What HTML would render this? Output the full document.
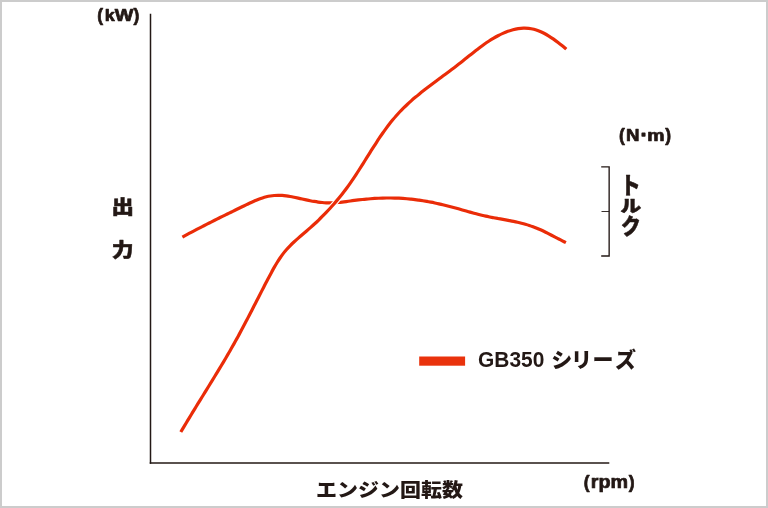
<!DOCTYPE html>
<html lang="ja"><head><meta charset="utf-8"><title>GB350 シリーズ</title>
<style>
html,body{margin:0;padding:0;background:#fff;}
body{width:768px;height:508px;overflow:hidden;}
svg{display:block;}
text{font-family:"Liberation Sans","Noto Sans CJK JP",sans-serif;font-weight:bold;fill:#231815;}
.jp{font-family:"Liberation Sans","Noto Sans CJK JP",sans-serif;font-weight:900;stroke:#231815;stroke-width:0.5px;stroke-linejoin:round;}
.un{stroke:#231815;stroke-width:0.7px;stroke-linejoin:round;}
</style></head><body>
<svg width="768" height="508" viewBox="0 0 768 508">
<rect x="0" y="0" width="768" height="508" fill="#fff"/>
<rect x="1" y="1" width="766" height="506" fill="none" stroke="#cccccc" stroke-width="2"/>
<!-- axes -->
<path d="M150.5 13.8 V463.75" fill="none" stroke="#231815" stroke-width="1.5"/>
<path d="M149.75 463 H609.3" fill="none" stroke="#231815" stroke-width="1.5"/>
<!-- torque bracket -->
<path d="M601.2 166.8 H609.15 V256 H601.2" fill="none" stroke="#231815" stroke-width="1.35"/>
<path d="M601.5 211.5 H609.15" fill="none" stroke="#231815" stroke-width="0.9"/>
<!-- curves -->
<path d="M182.40 237.10 C183.59 236.45 184.79 235.79 185.98 235.14 C187.17 234.50 188.37 233.85 189.56 233.21 C190.75 232.57 191.95 231.94 193.14 231.31 C194.33 230.68 195.53 230.05 196.72 229.42 C197.92 228.80 199.11 228.17 200.30 227.56 C201.50 226.94 202.69 226.32 203.89 225.71 C205.09 225.09 206.28 224.48 207.48 223.87 C208.68 223.27 209.88 222.66 211.08 222.06 C212.28 221.45 213.48 220.85 214.68 220.25 C215.88 219.65 217.08 219.05 218.28 218.45 C219.49 217.85 220.69 217.26 221.90 216.66 C223.10 216.07 224.31 215.47 225.52 214.88 C226.73 214.29 227.94 213.69 229.15 213.10 C230.36 212.51 231.58 211.92 232.79 211.33 C234.01 210.73 235.22 210.14 236.44 209.55 C237.66 208.96 238.88 208.37 240.10 207.77 C241.33 207.18 242.55 206.59 243.78 205.99 C245.00 205.40 246.23 204.80 247.46 204.21 C248.70 203.62 249.93 203.03 251.17 202.45 C252.41 201.88 253.65 201.31 254.90 200.78 C256.15 200.24 257.41 199.72 258.67 199.24 C259.93 198.77 261.20 198.31 262.48 197.91 C263.76 197.50 265.05 197.14 266.35 196.82 C267.65 196.51 268.96 196.24 270.27 196.03 C271.58 195.81 272.91 195.64 274.23 195.53 C275.55 195.41 276.88 195.35 278.21 195.33 C279.55 195.32 280.88 195.37 282.21 195.45 C283.55 195.54 284.88 195.69 286.22 195.86 C287.55 196.03 288.89 196.25 290.22 196.48 C291.56 196.72 292.89 196.99 294.23 197.26 C295.56 197.54 296.89 197.84 298.23 198.13 C299.56 198.42 300.89 198.73 302.22 199.02 C303.56 199.31 304.89 199.61 306.22 199.89 C307.55 200.17 308.88 200.45 310.20 200.70 C311.53 200.96 312.86 201.21 314.19 201.43 C315.52 201.66 316.85 201.87 318.18 202.05 C319.51 202.23 320.84 202.39 322.17 202.52 C323.50 202.65 324.83 202.75 326.16 202.82 C327.49 202.88 328.82 202.92 330.16 202.91 C331.49 202.91 332.83 202.86 334.16 202.79 C335.50 202.72 336.84 202.61 338.17 202.49 C339.51 202.37 340.85 202.22 342.19 202.06 C343.53 201.90 344.88 201.72 346.22 201.54 C347.56 201.36 348.91 201.17 350.25 200.98 C351.60 200.80 352.94 200.61 354.29 200.43 C355.64 200.26 356.98 200.09 358.33 199.93 C359.68 199.77 361.03 199.62 362.38 199.48 C363.73 199.33 365.08 199.20 366.43 199.08 C367.78 198.95 369.13 198.84 370.48 198.73 C371.84 198.63 373.19 198.54 374.54 198.45 C375.89 198.37 377.24 198.30 378.59 198.23 C379.95 198.17 381.30 198.12 382.65 198.08 C384.00 198.04 385.35 198.01 386.70 198.00 C388.05 197.98 389.40 197.98 390.75 197.99 C392.10 197.99 393.45 198.01 394.80 198.05 C396.15 198.08 397.49 198.13 398.84 198.19 C400.19 198.25 401.53 198.33 402.87 198.42 C404.22 198.50 405.56 198.61 406.90 198.72 C408.25 198.84 409.59 198.97 410.93 199.11 C412.26 199.26 413.60 199.41 414.94 199.58 C416.28 199.75 417.61 199.93 418.94 200.12 C420.28 200.31 421.61 200.52 422.94 200.73 C424.27 200.95 425.60 201.18 426.93 201.41 C428.26 201.65 429.58 201.90 430.91 202.16 C432.23 202.41 433.55 202.68 434.87 202.96 C436.19 203.24 437.51 203.52 438.83 203.82 C440.14 204.11 441.46 204.42 442.77 204.73 C444.09 205.04 445.40 205.36 446.71 205.69 C448.01 206.02 449.32 206.35 450.63 206.69 C451.93 207.03 453.23 207.38 454.53 207.74 C455.83 208.09 457.13 208.45 458.43 208.82 C459.73 209.18 461.02 209.55 462.32 209.92 C463.61 210.28 464.91 210.66 466.20 211.02 C467.50 211.39 468.79 211.76 470.09 212.12 C471.38 212.48 472.68 212.84 473.98 213.19 C475.28 213.54 476.58 213.89 477.88 214.22 C479.18 214.56 480.49 214.89 481.80 215.21 C483.11 215.52 484.42 215.83 485.73 216.12 C487.05 216.41 488.37 216.68 489.69 216.95 C491.01 217.22 492.34 217.48 493.67 217.73 C494.99 217.98 496.32 218.22 497.65 218.46 C498.98 218.71 500.31 218.94 501.64 219.18 C502.97 219.42 504.30 219.66 505.63 219.90 C506.96 220.14 508.29 220.39 509.62 220.64 C510.94 220.90 512.27 221.16 513.59 221.43 C514.91 221.70 516.23 221.98 517.54 222.28 C518.86 222.58 520.17 222.89 521.47 223.22 C522.78 223.55 524.08 223.89 525.37 224.26 C526.66 224.63 527.95 225.01 529.23 225.43 C530.51 225.84 531.79 226.28 533.05 226.74 C534.32 227.21 535.57 227.70 536.82 228.21 C538.08 228.73 539.32 229.27 540.56 229.83 C541.79 230.38 543.02 230.96 544.25 231.55 C545.48 232.13 546.69 232.74 547.91 233.35 C549.13 233.96 550.34 234.58 551.54 235.20 C552.75 235.83 553.95 236.46 555.15 237.08 C556.36 237.71 557.55 238.34 558.75 238.96 C559.94 239.58 561.14 240.20 562.33 240.81 C563.52 241.41 564.71 242.00 565.90 242.60" fill="none" stroke="#ea2c08" stroke-width="3.2"/>
<path d="M180.80 432.00 C181.72 430.45 182.64 428.89 183.56 427.34 C184.48 425.79 185.41 424.24 186.34 422.70 C187.27 421.15 188.20 419.61 189.14 418.06 C190.07 416.52 191.01 414.98 191.95 413.44 C192.89 411.89 193.84 410.35 194.78 408.82 C195.73 407.28 196.67 405.74 197.62 404.20 C198.57 402.66 199.52 401.13 200.47 399.59 C201.42 398.05 202.37 396.52 203.32 394.98 C204.27 393.44 205.22 391.91 206.17 390.37 C207.12 388.83 208.07 387.30 209.01 385.76 C209.96 384.22 210.91 382.68 211.85 381.14 C212.80 379.60 213.74 378.06 214.68 376.52 C215.63 374.98 216.57 373.44 217.50 371.89 C218.44 370.35 219.37 368.80 220.30 367.25 C221.23 365.71 222.16 364.16 223.09 362.60 C224.01 361.05 224.93 359.50 225.84 357.94 C226.76 356.39 227.67 354.83 228.58 353.27 C229.48 351.70 230.38 350.14 231.28 348.57 C232.18 347.01 233.07 345.44 233.95 343.86 C234.83 342.29 235.71 340.71 236.58 339.13 C237.46 337.55 238.32 335.97 239.18 334.38 C240.04 332.79 240.90 331.20 241.75 329.61 C242.60 328.02 243.44 326.42 244.28 324.83 C245.12 323.23 245.96 321.63 246.80 320.03 C247.63 318.43 248.46 316.82 249.29 315.22 C250.12 313.61 250.95 312.01 251.77 310.40 C252.60 308.79 253.42 307.19 254.25 305.58 C255.07 303.97 255.90 302.36 256.72 300.75 C257.54 299.15 258.37 297.54 259.19 295.93 C260.02 294.32 260.84 292.71 261.67 291.11 C262.50 289.50 263.32 287.89 264.16 286.29 C264.99 284.68 265.82 283.08 266.66 281.48 C267.50 279.88 268.34 278.27 269.19 276.68 C270.03 275.08 270.88 273.48 271.74 271.89 C272.61 270.31 273.47 268.72 274.37 267.16 C275.26 265.59 276.17 264.04 277.12 262.51 C278.06 260.98 279.03 259.46 280.04 257.98 C281.05 256.51 282.08 255.05 283.18 253.63 C284.27 252.21 285.41 250.83 286.59 249.48 C287.78 248.14 289.02 246.84 290.29 245.55 C291.56 244.27 292.88 243.03 294.22 241.79 C295.55 240.56 296.92 239.35 298.29 238.15 C299.66 236.95 301.05 235.76 302.44 234.57 C303.82 233.38 305.22 232.20 306.60 231.01 C307.98 229.82 309.35 228.62 310.71 227.41 C312.06 226.20 313.40 224.98 314.72 223.75 C316.05 222.52 317.36 221.28 318.65 220.03 C319.95 218.78 321.23 217.52 322.49 216.24 C323.76 214.97 325.01 213.68 326.25 212.39 C327.48 211.09 328.71 209.78 329.92 208.46 C331.12 207.14 332.32 205.81 333.50 204.47 C334.67 203.12 335.84 201.77 336.99 200.40 C338.14 199.03 339.28 197.64 340.40 196.25 C341.52 194.85 342.63 193.45 343.72 192.02 C344.82 190.60 345.90 189.17 346.96 187.72 C348.03 186.27 349.08 184.81 350.12 183.33 C351.16 181.86 352.18 180.37 353.20 178.87 C354.21 177.37 355.21 175.86 356.21 174.34 C357.21 172.82 358.19 171.29 359.17 169.76 C360.16 168.22 361.13 166.68 362.10 165.14 C363.08 163.60 364.04 162.05 365.01 160.50 C365.98 158.96 366.94 157.40 367.91 155.86 C368.88 154.31 369.84 152.76 370.82 151.22 C371.79 149.67 372.76 148.13 373.75 146.59 C374.73 145.06 375.71 143.53 376.71 142.01 C377.70 140.49 378.71 138.97 379.72 137.47 C380.74 135.96 381.76 134.47 382.80 132.99 C383.84 131.51 384.89 130.04 385.95 128.59 C387.02 127.13 388.10 125.69 389.20 124.27 C390.30 122.85 391.41 121.45 392.55 120.06 C393.69 118.68 394.84 117.31 396.02 115.97 C397.20 114.63 398.40 113.31 399.63 112.01 C400.85 110.71 402.10 109.43 403.37 108.18 C404.64 106.92 405.93 105.69 407.23 104.47 C408.54 103.25 409.86 102.05 411.20 100.86 C412.54 99.67 413.90 98.50 415.27 97.34 C416.64 96.18 418.03 95.04 419.42 93.91 C420.82 92.77 422.23 91.65 423.65 90.53 C425.06 89.42 426.49 88.32 427.93 87.22 C429.36 86.12 430.81 85.03 432.26 83.94 C433.70 82.85 435.16 81.77 436.62 80.68 C438.07 79.60 439.54 78.52 441.00 77.44 C442.46 76.36 443.93 75.28 445.39 74.20 C446.85 73.12 448.31 72.04 449.77 70.95 C451.23 69.86 452.69 68.76 454.14 67.66 C455.59 66.56 457.04 65.46 458.48 64.34 C459.91 63.23 461.35 62.10 462.77 60.97 C464.20 59.84 465.61 58.70 467.03 57.56 C468.45 56.43 469.87 55.28 471.29 54.15 C472.71 53.02 474.13 51.89 475.56 50.78 C476.98 49.67 478.42 48.57 479.86 47.49 C481.31 46.41 482.76 45.34 484.24 44.30 C485.71 43.27 487.19 42.25 488.70 41.27 C490.20 40.29 491.72 39.33 493.27 38.41 C494.82 37.50 496.39 36.62 497.98 35.78 C499.58 34.95 501.21 34.15 502.85 33.41 C504.50 32.68 506.18 31.98 507.87 31.37 C509.56 30.76 511.28 30.21 513.00 29.75 C514.72 29.29 516.46 28.91 518.20 28.64 C519.94 28.37 521.69 28.19 523.44 28.13 C525.18 28.08 526.93 28.13 528.67 28.32 C530.41 28.51 532.14 28.84 533.86 29.28 C535.58 29.72 537.29 30.31 538.98 30.97 C540.67 31.64 542.34 32.42 543.99 33.26 C545.64 34.10 547.27 35.05 548.86 36.02 C550.46 37.00 552.03 38.05 553.56 39.12 C555.09 40.18 556.59 41.31 558.05 42.42 C559.51 43.53 560.94 44.68 562.31 45.79 C563.68 46.91 564.97 48.00 566.30 49.11" fill="none" stroke="#fff" stroke-width="5.4"/>
<path d="M180.80 432.00 C181.72 430.45 182.64 428.89 183.56 427.34 C184.48 425.79 185.41 424.24 186.34 422.70 C187.27 421.15 188.20 419.61 189.14 418.06 C190.07 416.52 191.01 414.98 191.95 413.44 C192.89 411.89 193.84 410.35 194.78 408.82 C195.73 407.28 196.67 405.74 197.62 404.20 C198.57 402.66 199.52 401.13 200.47 399.59 C201.42 398.05 202.37 396.52 203.32 394.98 C204.27 393.44 205.22 391.91 206.17 390.37 C207.12 388.83 208.07 387.30 209.01 385.76 C209.96 384.22 210.91 382.68 211.85 381.14 C212.80 379.60 213.74 378.06 214.68 376.52 C215.63 374.98 216.57 373.44 217.50 371.89 C218.44 370.35 219.37 368.80 220.30 367.25 C221.23 365.71 222.16 364.16 223.09 362.60 C224.01 361.05 224.93 359.50 225.84 357.94 C226.76 356.39 227.67 354.83 228.58 353.27 C229.48 351.70 230.38 350.14 231.28 348.57 C232.18 347.01 233.07 345.44 233.95 343.86 C234.83 342.29 235.71 340.71 236.58 339.13 C237.46 337.55 238.32 335.97 239.18 334.38 C240.04 332.79 240.90 331.20 241.75 329.61 C242.60 328.02 243.44 326.42 244.28 324.83 C245.12 323.23 245.96 321.63 246.80 320.03 C247.63 318.43 248.46 316.82 249.29 315.22 C250.12 313.61 250.95 312.01 251.77 310.40 C252.60 308.79 253.42 307.19 254.25 305.58 C255.07 303.97 255.90 302.36 256.72 300.75 C257.54 299.15 258.37 297.54 259.19 295.93 C260.02 294.32 260.84 292.71 261.67 291.11 C262.50 289.50 263.32 287.89 264.16 286.29 C264.99 284.68 265.82 283.08 266.66 281.48 C267.50 279.88 268.34 278.27 269.19 276.68 C270.03 275.08 270.88 273.48 271.74 271.89 C272.61 270.31 273.47 268.72 274.37 267.16 C275.26 265.59 276.17 264.04 277.12 262.51 C278.06 260.98 279.03 259.46 280.04 257.98 C281.05 256.51 282.08 255.05 283.18 253.63 C284.27 252.21 285.41 250.83 286.59 249.48 C287.78 248.14 289.02 246.84 290.29 245.55 C291.56 244.27 292.88 243.03 294.22 241.79 C295.55 240.56 296.92 239.35 298.29 238.15 C299.66 236.95 301.05 235.76 302.44 234.57 C303.82 233.38 305.22 232.20 306.60 231.01 C307.98 229.82 309.35 228.62 310.71 227.41 C312.06 226.20 313.40 224.98 314.72 223.75 C316.05 222.52 317.36 221.28 318.65 220.03 C319.95 218.78 321.23 217.52 322.49 216.24 C323.76 214.97 325.01 213.68 326.25 212.39 C327.48 211.09 328.71 209.78 329.92 208.46 C331.12 207.14 332.32 205.81 333.50 204.47 C334.67 203.12 335.84 201.77 336.99 200.40 C338.14 199.03 339.28 197.64 340.40 196.25 C341.52 194.85 342.63 193.45 343.72 192.02 C344.82 190.60 345.90 189.17 346.96 187.72 C348.03 186.27 349.08 184.81 350.12 183.33 C351.16 181.86 352.18 180.37 353.20 178.87 C354.21 177.37 355.21 175.86 356.21 174.34 C357.21 172.82 358.19 171.29 359.17 169.76 C360.16 168.22 361.13 166.68 362.10 165.14 C363.08 163.60 364.04 162.05 365.01 160.50 C365.98 158.96 366.94 157.40 367.91 155.86 C368.88 154.31 369.84 152.76 370.82 151.22 C371.79 149.67 372.76 148.13 373.75 146.59 C374.73 145.06 375.71 143.53 376.71 142.01 C377.70 140.49 378.71 138.97 379.72 137.47 C380.74 135.96 381.76 134.47 382.80 132.99 C383.84 131.51 384.89 130.04 385.95 128.59 C387.02 127.13 388.10 125.69 389.20 124.27 C390.30 122.85 391.41 121.45 392.55 120.06 C393.69 118.68 394.84 117.31 396.02 115.97 C397.20 114.63 398.40 113.31 399.63 112.01 C400.85 110.71 402.10 109.43 403.37 108.18 C404.64 106.92 405.93 105.69 407.23 104.47 C408.54 103.25 409.86 102.05 411.20 100.86 C412.54 99.67 413.90 98.50 415.27 97.34 C416.64 96.18 418.03 95.04 419.42 93.91 C420.82 92.77 422.23 91.65 423.65 90.53 C425.06 89.42 426.49 88.32 427.93 87.22 C429.36 86.12 430.81 85.03 432.26 83.94 C433.70 82.85 435.16 81.77 436.62 80.68 C438.07 79.60 439.54 78.52 441.00 77.44 C442.46 76.36 443.93 75.28 445.39 74.20 C446.85 73.12 448.31 72.04 449.77 70.95 C451.23 69.86 452.69 68.76 454.14 67.66 C455.59 66.56 457.04 65.46 458.48 64.34 C459.91 63.23 461.35 62.10 462.77 60.97 C464.20 59.84 465.61 58.70 467.03 57.56 C468.45 56.43 469.87 55.28 471.29 54.15 C472.71 53.02 474.13 51.89 475.56 50.78 C476.98 49.67 478.42 48.57 479.86 47.49 C481.31 46.41 482.76 45.34 484.24 44.30 C485.71 43.27 487.19 42.25 488.70 41.27 C490.20 40.29 491.72 39.33 493.27 38.41 C494.82 37.50 496.39 36.62 497.98 35.78 C499.58 34.95 501.21 34.15 502.85 33.41 C504.50 32.68 506.18 31.98 507.87 31.37 C509.56 30.76 511.28 30.21 513.00 29.75 C514.72 29.29 516.46 28.91 518.20 28.64 C519.94 28.37 521.69 28.19 523.44 28.13 C525.18 28.08 526.93 28.13 528.67 28.32 C530.41 28.51 532.14 28.84 533.86 29.28 C535.58 29.72 537.29 30.31 538.98 30.97 C540.67 31.64 542.34 32.42 543.99 33.26 C545.64 34.10 547.27 35.05 548.86 36.02 C550.46 37.00 552.03 38.05 553.56 39.12 C555.09 40.18 556.59 41.31 558.05 42.42 C559.51 43.53 560.94 44.68 562.31 45.79 C563.68 46.91 564.97 48.00 566.30 49.11" fill="none" stroke="#ea2c08" stroke-width="3.2"/>
<!-- legend -->
<rect x="419.2" y="356.5" width="45.9" height="9.2" fill="#e9320c"/>
<text><tspan x="478.1" y="367.1" font-size="22.9" textLength="66.3" lengthAdjust="spacingAndGlyphs">GB350</tspan> <tspan class="jp" x="551.2 571 592.4 614.9" y="366.5" font-size="21" style="stroke-width:0">シリーズ</tspan></text>
<!-- labels -->
<text class="un"><tspan x="97.2" y="21.1" font-size="17.5">(</tspan><tspan x="104.8" y="20.8" font-size="15.8" textLength="10.0" lengthAdjust="spacingAndGlyphs">k</tspan><tspan x="114.7" y="20.8" font-size="16" textLength="18.6" lengthAdjust="spacingAndGlyphs">W</tspan><tspan x="133.6" y="21.1" font-size="17.5">)</tspan></text>
<text class="un"><tspan x="619.1" y="141.2" font-size="17.5">(</tspan><tspan x="625.9" y="140.9" font-size="15.8" textLength="13.5" lengthAdjust="spacingAndGlyphs">N</tspan><tspan x="640.9" y="140.9" font-size="18" style="stroke-width:1.6px">·</tspan><tspan x="647.2" y="140.9" font-size="17.2" textLength="17.3" lengthAdjust="spacingAndGlyphs">m</tspan><tspan x="665.3" y="141.2" font-size="17.5">)</tspan></text>
<text class="un"><tspan x="583.8" y="488.2" font-size="17.5">(</tspan><tspan x="590.8" y="487.9" font-size="17.6" textLength="37.3" lengthAdjust="spacingAndGlyphs">rpm</tspan><tspan x="628.8" y="488.2" font-size="17.5">)</tspan></text>
<text class="jp"><tspan x="111.47" y="214.2" font-size="19.0" textLength="22.47" lengthAdjust="spacingAndGlyphs">出</tspan><tspan x="111.78" y="256.5" font-size="19.32" textLength="21.84" lengthAdjust="spacingAndGlyphs">力</tspan></text>
<text class="jp"><tspan x="620.37" y="193.8" font-size="23.73" textLength="20.37" lengthAdjust="spacingAndGlyphs">ト</tspan><tspan x="620.4" y="211.9" font-size="16.8" textLength="20.79" lengthAdjust="spacingAndGlyphs">ル</tspan><tspan x="621.08" y="233.6" font-size="21.21" textLength="19.74" lengthAdjust="spacingAndGlyphs">ク</tspan></text>
<text class="jp" transform="translate(316 497.4) scale(1 0.9)" x="0" y="0" font-size="21" style="stroke-width:0">エンジン回転数</text>
</svg>
</body></html>
